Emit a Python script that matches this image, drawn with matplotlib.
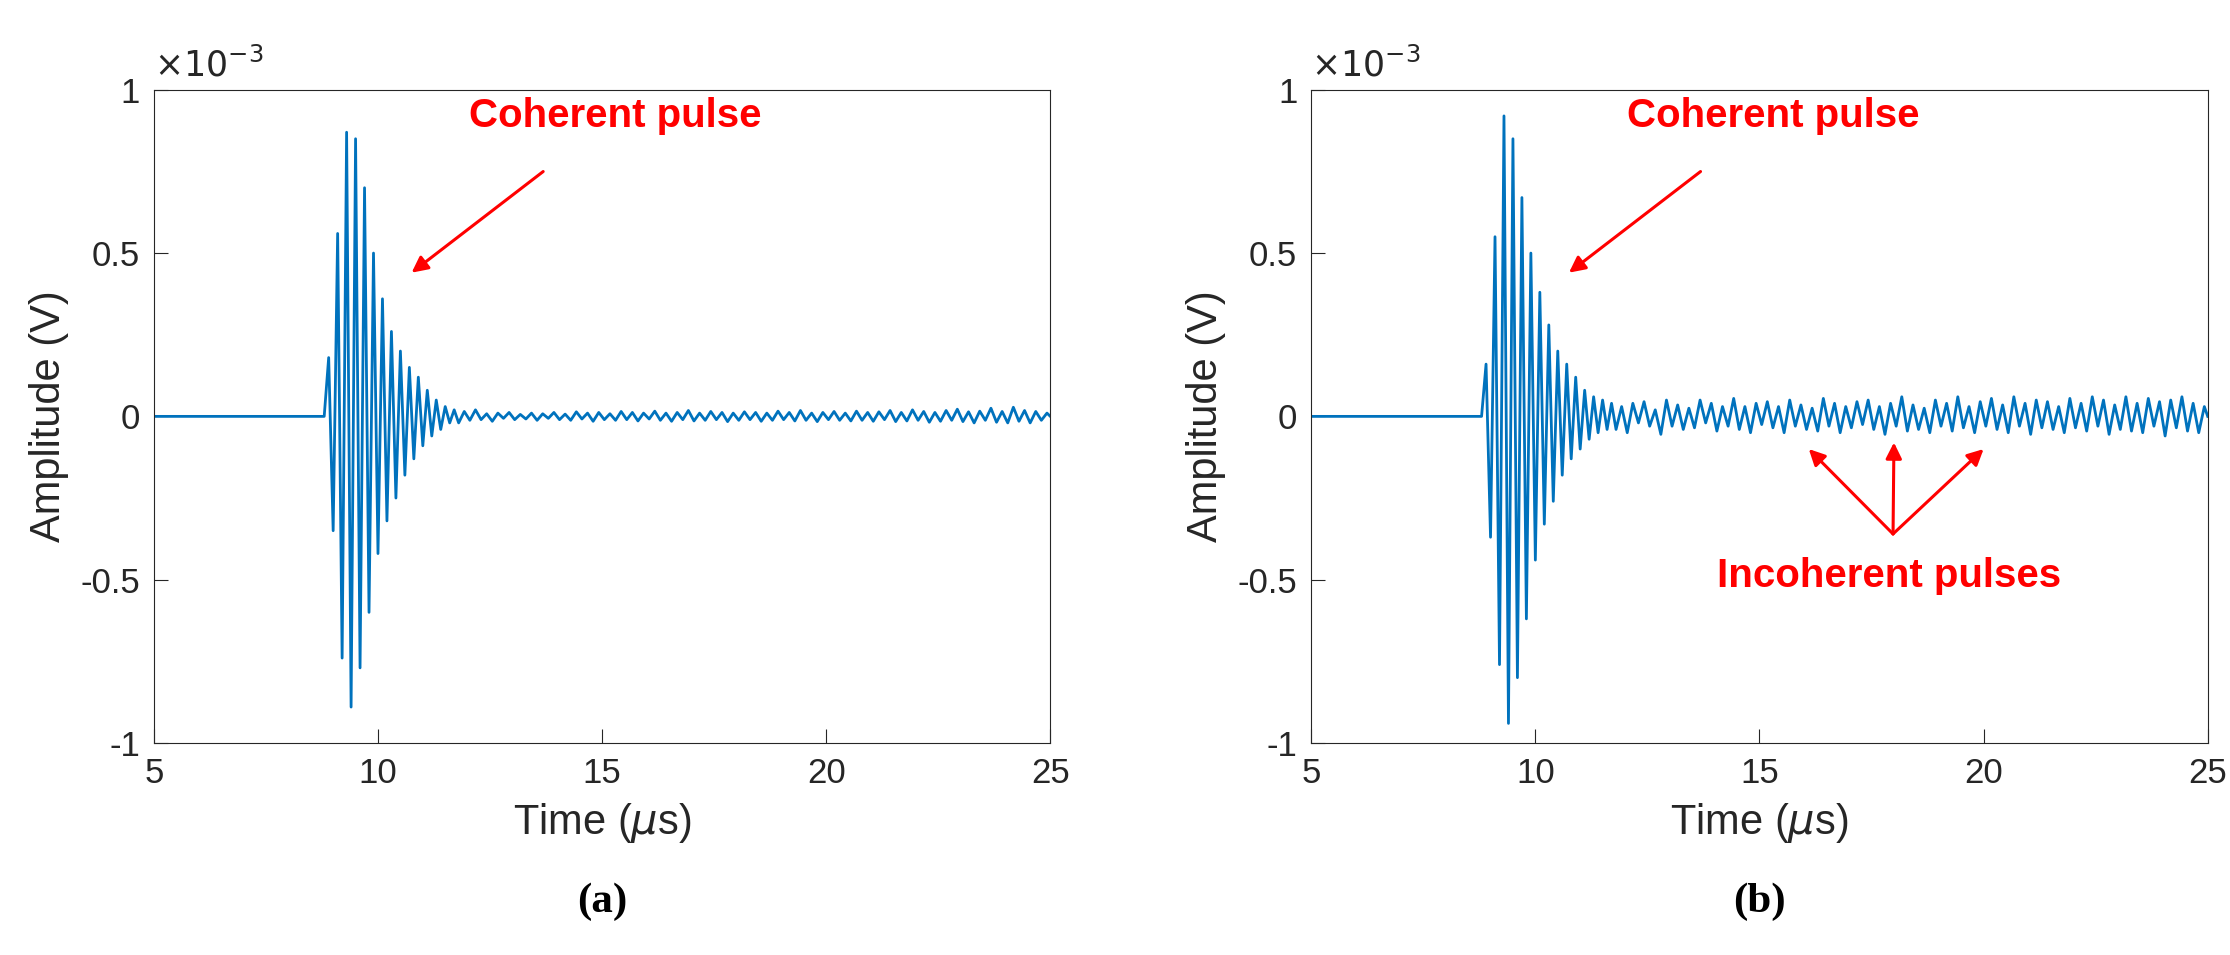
import numpy as np
import matplotlib.pyplot as plt

plt.rcParams["font.family"] = ["Liberation Sans", "DejaVu Sans"]

# waveform extrema (units of 1e-3 V), alternating +/-
onset_us = 8.8
half_period_us = 0.1
tail_half_period_us = 0.125

pulse_a_pos = [0.18, 0.56, 0.87, 0.85, 0.70, 0.50, 0.36, 0.26, 0.20, 0.15, 0.12, 0.08, 0.05, 0.03, 0.02]
pulse_a_neg = [-0.35, -0.74, -0.89, -0.77, -0.60, -0.42, -0.32, -0.25, -0.18, -0.13, -0.09, -0.06, -0.04, -0.02, -0.02]
pulse_b_pos = [0.16, 0.55, 0.92, 0.85, 0.67, 0.50, 0.38, 0.28, 0.20, 0.16, 0.12, 0.08, 0.06, 0.05, 0.04]
pulse_b_neg = [-0.37, -0.76, -0.94, -0.80, -0.62, -0.44, -0.33, -0.26, -0.18, -0.13, -0.10, -0.07, -0.05, -0.04, -0.04]

tail_a = [0.015, -0.012, 0.02, -0.01, 0.008, -0.015, 0.01, -0.006, 0.012, -0.01, 0.006, -0.008, 0.01, -0.012,
          0.008, -0.006, 0.012, -0.01, 0.007, -0.012, 0.014, -0.008, 0.01, -0.015, 0.012, -0.01, 0.008, -0.012,
          0.015, -0.01, 0.012, -0.014, 0.01, -0.008, 0.016, -0.012, 0.01, -0.015, 0.012, -0.01, 0.018, -0.014,
          0.01, -0.012, 0.015, -0.01, 0.012, -0.016, 0.01, -0.012, 0.014, -0.01, 0.012, -0.015, 0.01, -0.012,
          0.016, -0.01, 0.012, -0.014, 0.018, -0.012, 0.01, -0.016, 0.012, -0.01, 0.015, -0.012, 0.01, -0.014,
          0.016, -0.012, 0.012, -0.015, 0.014, -0.01, 0.018, -0.016, 0.012, -0.014, 0.02, -0.012, 0.015, -0.018,
          0.012, -0.015, 0.018, -0.012, 0.022, -0.016, 0.014, -0.02, 0.016, -0.012, 0.025, -0.018, 0.015, -0.02,
          0.028, -0.015, 0.018, -0.02, 0.015, -0.012, 0.01]
tail_b = [0.03, -0.05, 0.04, -0.02, 0.045, -0.03, 0.02, -0.055, 0.05, -0.03, 0.035, -0.04, 0.025, -0.035,
          0.05, -0.02, 0.04, -0.045, 0.03, -0.03, 0.055, -0.04, 0.03, -0.05, 0.04, -0.025, 0.045, -0.035,
          0.03, -0.05, 0.05, -0.03, 0.035, -0.04, 0.025, -0.045, 0.055, -0.03, 0.04, -0.05, 0.03, -0.035,
          0.045, -0.025, 0.05, -0.04, 0.03, -0.055, 0.04, -0.03, 0.06, -0.045, 0.035, -0.04, 0.025, -0.05,
          0.05, -0.03, 0.04, -0.045, 0.06, -0.035, 0.03, -0.05, 0.045, -0.03, 0.055, -0.04, 0.035, -0.05,
          0.06, -0.03, 0.04, -0.055, 0.05, -0.035, 0.045, -0.04, 0.03, -0.05, 0.055, -0.035, 0.04, -0.045,
          0.06, -0.03, 0.05, -0.055, 0.035, -0.04, 0.06, -0.045, 0.04, -0.05, 0.055, -0.03, 0.045, -0.06,
          0.05, -0.035, 0.06, -0.045, 0.04, -0.05, 0.03]

x_ticks = [5, 10, 15, 20, 25]
y_ticks = [-1e-3, -0.5e-3, 0, 0.5e-3, 1e-3]
y_tick_labels = ["-1", "-0.5", "0", "0.5", "1"]


def build(pos, neg, tail):
    ext = [v for pair in zip(pos, neg) for v in pair]
    t_pulse = onset_us + half_period_us * np.arange(1, len(ext) + 1)
    t_tail = t_pulse[-1] + tail_half_period_us * np.arange(1, len(tail) + 1)
    t = np.concatenate([[5.0, onset_us], t_pulse, t_tail, [25.0]])
    y = np.concatenate([[0, 0], ext, tail, [0]]) * 1e-3
    return t, y


fig = plt.figure(figsize=(22.3, 9.55), dpi=100)
ax_a = fig.add_axes([0.069, 0.222, 0.402, 0.684])
ax_b = fig.add_axes([0.588, 0.222, 0.402, 0.684])

for ax, (pos, neg, tail) in zip(
    (ax_a, ax_b), [(pulse_a_pos, pulse_a_neg, tail_a), (pulse_b_pos, pulse_b_neg, tail_b)]
):
    t, y = build(pos, neg, tail)
    ax.plot(t, y, color="#0072BD", lw=2.0)
    ax.set_xlim(5, 25)
    ax.set_ylim(-1e-3, 1e-3)
    ax.set_xticks(x_ticks)
    ax.set_yticks(y_ticks)
    ax.set_yticklabels(y_tick_labels)
    ax.tick_params(direction="in", labelsize=25, colors="#262626", length=10, pad=10)
    for s in ax.spines.values():
        s.set_color("#262626")
    ax.set_xlabel(r"Time ($\mu$s)", fontsize=30, color="#262626", labelpad=8)
    ax.set_ylabel("Amplitude (V)", fontsize=30, color="#262626", labelpad=8)
    ax.text(0.0, 1.01, r"$\times10^{-3}$", transform=ax.transAxes, fontsize=25,
            color="#262626", va="bottom", ha="left")
    ax.annotate("Coherent pulse", xy=(10.75, 0.44e-3), xytext=(15.3, 0.92e-3),
                fontsize=29, fontweight="bold", color="red", ha="center", va="center",
                arrowprops=dict(arrowstyle="-|>", color="red", lw=2.2, mutation_scale=24,
                                shrinkA=40, shrinkB=0))

ax_b.text(17.9, -0.49e-3, "Incoherent pulses", fontsize=29, fontweight="bold",
          color="red", ha="center", va="center")
for tip in [(16.1, -0.10e-3), (18.0, -0.08e-3), (20.0, -0.10e-3)]:
    ax_b.annotate("", xy=tip, xytext=(17.98, -0.36e-3),
                  arrowprops=dict(arrowstyle="-|>", color="red", lw=2.2, mutation_scale=24,
                                  shrinkA=0, shrinkB=0))

fig.text(0.27, 0.045, "(a)", fontsize=31, fontweight="bold", family="Liberation Serif", ha="center")
fig.text(0.789, 0.045, "(b)", fontsize=31, fontweight="bold", family="Liberation Serif", ha="center")

fig.savefig("out.png", dpi=100)
